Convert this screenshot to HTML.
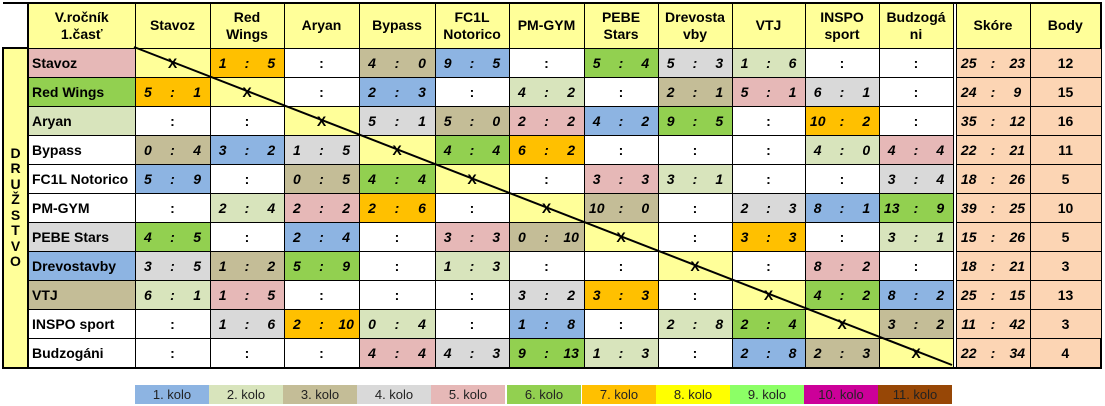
<!DOCTYPE html>
<html><head><meta charset="utf-8"><style>
body{margin:0;width:1105px;height:406px;background:#fff;position:relative;overflow:hidden;font-family:"Liberation Sans",Arial,sans-serif}
table{position:absolute;left:2px;top:2px;border-collapse:collapse;table-layout:fixed}
td{border:1px solid #000;padding:0;font-weight:bold;font-size:14px;text-align:center;height:28px;overflow:hidden;white-space:nowrap}
tr.h td{height:43px;background:#ffff99;font-size:14px;line-height:17px}
tr.h td.blank{background:#fff;border:none;border-right:2px solid #000}
td.n{text-align:left;padding-left:3px;font-size:14px}
td.dz{background:#ffff99;border:2px solid #000;vertical-align:middle;font-size:14px;line-height:15.5px}
td.g{background:#fff;border-top:none;border-bottom:none}
td i{display:inline-block;width:33.3%;font-style:italic;text-align:center}
.c1{background:#8db4e2}.c2{background:#d8e4bc}.c3{background:#c4bd97}.c4{background:#d9d9d9}.c5{background:#e6b8b7}.c6{background:#92d050}.c7{background:#ffc000}.d{background:#ffff99}.s{background:#fcd5b4}
.lg{position:absolute;top:385px;height:19px;width:74px;font-size:13px;line-height:19px;text-align:center;color:#222}
</style></head><body>
<table>
<colgroup><col style="width:25px"><col style="width:107px"><col style="width:75px"><col style="width:74px"><col style="width:75px"><col style="width:76px"><col style="width:74px"><col style="width:75px"><col style="width:74px"><col style="width:74px"><col style="width:73px"><col style="width:74px"><col style="width:74px"><col style="width:3px"><col style="width:74px"><col style="width:71px"></colgroup>
<tr class="h" style="border-top:2px solid #000"><td class="blank"></td><td>V.ročník<br>1.časť</td><td>Stavoz</td><td>Red<br>Wings</td><td>Aryan</td><td>Bypass</td><td>FC1L<br>Notorico</td><td>PM-GYM</td><td>PEBE<br>Stars</td><td>Drevosta<br>vby</td><td>VTJ</td><td>INSPO<br>sport</td><td>Budzogá<br>ni</td><td class="g" style="background:#fff"></td><td class="s">Skóre</td><td class="s" style="border-right:2px solid #000">Body</td></tr>
<tr><td class="dz" rowspan="11">D<br>R<br>U<br>Ž<br>S<br>T<br>V<br>O</td><td class="n c5">Stavoz</td><td class="d">X</td><td class="c7"><i>1</i><i>:</i><i>5</i></td><td>:</td><td class="c3"><i>4</i><i>:</i><i>0</i></td><td class="c1"><i>9</i><i>:</i><i>5</i></td><td>:</td><td class="c6"><i>5</i><i>:</i><i>4</i></td><td class="c4"><i>5</i><i>:</i><i>3</i></td><td class="c2"><i>1</i><i>:</i><i>6</i></td><td>:</td><td>:</td><td class="g"></td><td class="s"><i>25</i><i>:</i><i>23</i></td><td class="s">12</td></tr>
<tr><td class="n c6">Red Wings</td><td class="c7"><i>5</i><i>:</i><i>1</i></td><td class="d">X</td><td>:</td><td class="c1"><i>2</i><i>:</i><i>3</i></td><td>:</td><td class="c2"><i>4</i><i>:</i><i>2</i></td><td>:</td><td class="c3"><i>2</i><i>:</i><i>1</i></td><td class="c5"><i>5</i><i>:</i><i>1</i></td><td class="c4"><i>6</i><i>:</i><i>1</i></td><td>:</td><td class="g"></td><td class="s"><i>24</i><i>:</i><i>9</i></td><td class="s">15</td></tr>
<tr><td class="n c2">Aryan</td><td>:</td><td>:</td><td class="d">X</td><td class="c4"><i>5</i><i>:</i><i>1</i></td><td class="c3"><i>5</i><i>:</i><i>0</i></td><td class="c5"><i>2</i><i>:</i><i>2</i></td><td class="c1"><i>4</i><i>:</i><i>2</i></td><td class="c6"><i>9</i><i>:</i><i>5</i></td><td>:</td><td class="c7"><i>10</i><i>:</i><i>2</i></td><td>:</td><td class="g"></td><td class="s"><i>35</i><i>:</i><i>12</i></td><td class="s">16</td></tr>
<tr><td class="n">Bypass</td><td class="c3"><i>0</i><i>:</i><i>4</i></td><td class="c1"><i>3</i><i>:</i><i>2</i></td><td class="c4"><i>1</i><i>:</i><i>5</i></td><td class="d">X</td><td class="c6"><i>4</i><i>:</i><i>4</i></td><td class="c7"><i>6</i><i>:</i><i>2</i></td><td>:</td><td>:</td><td>:</td><td class="c2"><i>4</i><i>:</i><i>0</i></td><td class="c5"><i>4</i><i>:</i><i>4</i></td><td class="g"></td><td class="s"><i>22</i><i>:</i><i>21</i></td><td class="s">11</td></tr>
<tr><td class="n">FC1L Notorico</td><td class="c1"><i>5</i><i>:</i><i>9</i></td><td>:</td><td class="c3"><i>0</i><i>:</i><i>5</i></td><td class="c6"><i>4</i><i>:</i><i>4</i></td><td class="d">X</td><td>:</td><td class="c5"><i>3</i><i>:</i><i>3</i></td><td class="c2"><i>3</i><i>:</i><i>1</i></td><td>:</td><td>:</td><td class="c4"><i>3</i><i>:</i><i>4</i></td><td class="g"></td><td class="s"><i>18</i><i>:</i><i>26</i></td><td class="s">5</td></tr>
<tr><td class="n">PM-GYM</td><td>:</td><td class="c2"><i>2</i><i>:</i><i>4</i></td><td class="c5"><i>2</i><i>:</i><i>2</i></td><td class="c7"><i>2</i><i>:</i><i>6</i></td><td>:</td><td class="d">X</td><td class="c3"><i>10</i><i>:</i><i>0</i></td><td>:</td><td class="c4"><i>2</i><i>:</i><i>3</i></td><td class="c1"><i>8</i><i>:</i><i>1</i></td><td class="c6"><i>13</i><i>:</i><i>9</i></td><td class="g"></td><td class="s"><i>39</i><i>:</i><i>25</i></td><td class="s">10</td></tr>
<tr><td class="n c4">PEBE Stars</td><td class="c6"><i>4</i><i>:</i><i>5</i></td><td>:</td><td class="c1"><i>2</i><i>:</i><i>4</i></td><td>:</td><td class="c5"><i>3</i><i>:</i><i>3</i></td><td class="c3"><i>0</i><i>:</i><i>10</i></td><td class="d">X</td><td>:</td><td class="c7"><i>3</i><i>:</i><i>3</i></td><td>:</td><td class="c2"><i>3</i><i>:</i><i>1</i></td><td class="g"></td><td class="s"><i>15</i><i>:</i><i>26</i></td><td class="s">5</td></tr>
<tr><td class="n c1">Drevostavby</td><td class="c4"><i>3</i><i>:</i><i>5</i></td><td class="c3"><i>1</i><i>:</i><i>2</i></td><td class="c6"><i>5</i><i>:</i><i>9</i></td><td>:</td><td class="c2"><i>1</i><i>:</i><i>3</i></td><td>:</td><td>:</td><td class="d">X</td><td>:</td><td class="c5"><i>8</i><i>:</i><i>2</i></td><td>:</td><td class="g"></td><td class="s"><i>18</i><i>:</i><i>21</i></td><td class="s">3</td></tr>
<tr><td class="n c3">VTJ</td><td class="c2"><i>6</i><i>:</i><i>1</i></td><td class="c5"><i>1</i><i>:</i><i>5</i></td><td>:</td><td>:</td><td>:</td><td class="c4"><i>3</i><i>:</i><i>2</i></td><td class="c7"><i>3</i><i>:</i><i>3</i></td><td>:</td><td class="d">X</td><td class="c6"><i>4</i><i>:</i><i>2</i></td><td class="c1"><i>8</i><i>:</i><i>2</i></td><td class="g"></td><td class="s"><i>25</i><i>:</i><i>15</i></td><td class="s">13</td></tr>
<tr><td class="n">INSPO sport</td><td>:</td><td class="c4"><i>1</i><i>:</i><i>6</i></td><td class="c7"><i>2</i><i>:</i><i>10</i></td><td class="c2"><i>0</i><i>:</i><i>4</i></td><td>:</td><td class="c1"><i>1</i><i>:</i><i>8</i></td><td>:</td><td class="c2"><i>2</i><i>:</i><i>8</i></td><td class="c6"><i>2</i><i>:</i><i>4</i></td><td class="d">X</td><td class="c3"><i>3</i><i>:</i><i>2</i></td><td class="g"></td><td class="s"><i>11</i><i>:</i><i>42</i></td><td class="s">3</td></tr>
<tr style="border-bottom:2px solid #000"><td class="n">Budzogáni</td><td>:</td><td>:</td><td>:</td><td class="c5"><i>4</i><i>:</i><i>4</i></td><td class="c4"><i>4</i><i>:</i><i>3</i></td><td class="c6"><i>9</i><i>:</i><i>13</i></td><td class="c2"><i>1</i><i>:</i><i>3</i></td><td>:</td><td class="c1"><i>2</i><i>:</i><i>8</i></td><td class="c3"><i>2</i><i>:</i><i>3</i></td><td class="d">X</td><td class="g"></td><td class="s"><i>22</i><i>:</i><i>34</i></td><td class="s" style="border-right:2px solid #000">4</td></tr>
</table>
<svg style="position:absolute;left:0;top:0" width="1105" height="406"><line x1="134" y1="47" x2="952" y2="365" stroke="#000" stroke-width="2"/></svg>
<div class="lg" style="left:135px;background:#8db4e2">1. kolo</div>
<div class="lg" style="left:209px;background:#d8e4bc">2. kolo</div>
<div class="lg" style="left:283px;background:#c4bd97">3. kolo</div>
<div class="lg" style="left:357px;background:#d9d9d9">4. kolo</div>
<div class="lg" style="left:431px;background:#e6b8b7">5. kolo</div>
<div class="lg" style="left:507px;background:#92d050">6. kolo</div>
<div class="lg" style="left:582px;background:#ffc000">7. kolo</div>
<div class="lg" style="left:656px;background:#ffff00">8. kolo</div>
<div class="lg" style="left:730px;background:#8cff66">9. kolo</div>
<div class="lg" style="left:804px;background:#cc0099">10. kolo</div>
<div class="lg" style="left:878px;background:#974706">11. kolo</div>
</body></html>
